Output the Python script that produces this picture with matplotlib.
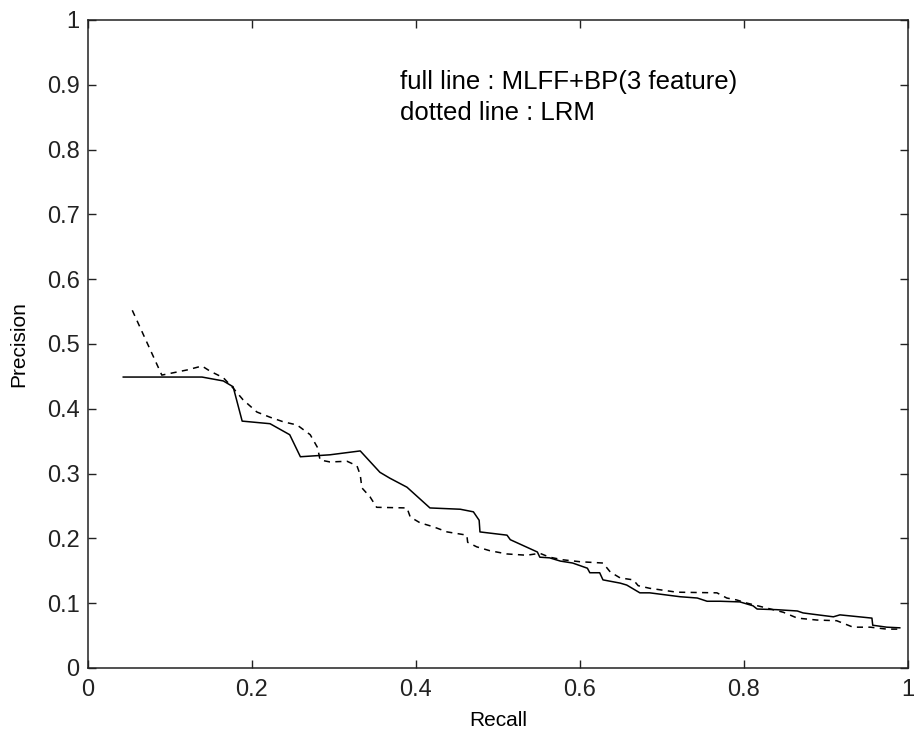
import matplotlib
matplotlib.use("Agg")
import matplotlib.pyplot as plt

# full line: MLFF+BP (3 feature)
mlff_recall = [0.043, 0.139, 0.165, 0.173, 0.177, 0.188, 0.222, 0.246, 0.259, 0.295,
               0.332, 0.356, 0.368, 0.389, 0.417, 0.454, 0.470, 0.477, 0.478, 0.511,
               0.515, 0.548, 0.551, 0.563, 0.576, 0.591, 0.609, 0.612, 0.624, 0.628,
               0.649, 0.657, 0.673, 0.685, 0.722, 0.743, 0.755, 0.771, 0.795, 0.811,
               0.816, 0.840, 0.865, 0.872, 0.884, 0.909, 0.917, 0.956, 0.957, 0.974,
               0.990]
mlff_precision = [0.449, 0.449, 0.443, 0.437, 0.434, 0.381, 0.377, 0.360, 0.326, 0.329,
                  0.335, 0.302, 0.293, 0.279, 0.247, 0.245, 0.241, 0.228, 0.210, 0.205,
                  0.198, 0.179, 0.171, 0.170, 0.165, 0.162, 0.154, 0.147, 0.147, 0.136,
                  0.131, 0.128, 0.116, 0.116, 0.110, 0.108, 0.103, 0.103, 0.102, 0.096,
                  0.091, 0.090, 0.088, 0.085, 0.083, 0.079, 0.082, 0.077, 0.066, 0.063,
                  0.062]

# dotted line: LRM
lrm_recall = [0.054, 0.090, 0.121, 0.139, 0.149, 0.165, 0.177, 0.189, 0.206, 0.222,
              0.238, 0.255, 0.271, 0.280, 0.283, 0.295, 0.316, 0.328, 0.332, 0.334,
              0.344, 0.352, 0.389, 0.393, 0.405, 0.421, 0.438, 0.462, 0.463, 0.474,
              0.490, 0.511, 0.535, 0.551, 0.563, 0.579, 0.600, 0.628, 0.637, 0.649,
              0.665, 0.671, 0.685, 0.718, 0.767, 0.779, 0.791, 0.804, 0.823, 0.848,
              0.865, 0.889, 0.913, 0.921, 0.933, 0.954, 0.974, 0.990]
lrm_precision = [0.552, 0.452, 0.460, 0.466, 0.458, 0.448, 0.432, 0.414, 0.395, 0.387,
                 0.380, 0.375, 0.360, 0.340, 0.321, 0.318, 0.319, 0.312, 0.298, 0.278,
                 0.264, 0.248, 0.247, 0.233, 0.224, 0.218, 0.210, 0.205, 0.194, 0.187,
                 0.181, 0.176, 0.174, 0.177, 0.171, 0.167, 0.164, 0.162, 0.148, 0.139,
                 0.136, 0.127, 0.123, 0.117, 0.116, 0.108, 0.105, 0.100, 0.094, 0.086,
                 0.077, 0.074, 0.073, 0.069, 0.063, 0.063, 0.060, 0.060]

x_ticks = [0, 0.2, 0.4, 0.6, 0.8, 1]
x_tick_labels = ["0", "0.2", "0.4", "0.6", "0.8", "1"]
y_ticks = [0, 0.1, 0.2, 0.3, 0.4, 0.5, 0.6, 0.7, 0.8, 0.9, 1]
y_tick_labels = ["0", "0.1", "0.2", "0.3", "0.4", "0.5", "0.6", "0.7", "0.8", "0.9", "1"]

plt.rcParams["font.family"] = ["Liberation Sans", "DejaVu Sans"]

fig = plt.figure(figsize=(9.14, 7.40), dpi=100)
ax = fig.add_axes([88 / 914, 72 / 740, 820 / 914, 648 / 740])

ax.plot(mlff_recall, mlff_precision, color="black", linewidth=1.1)
ax.plot(lrm_recall, lrm_precision, color="black", linewidth=1.1, linestyle=(0, (4, 3.5)))

ax.set_xlim(0, 1)
ax.set_ylim(0, 1)
ax.set_xticks(x_ticks)
ax.set_xticklabels(x_tick_labels)
ax.set_yticks(y_ticks)
ax.set_yticklabels(y_tick_labels)
ax.tick_params(direction="in", top=True, right=True, length=6, width=1,
               labelsize=17, colors="#222222")
ax.tick_params(axis="x", pad=8)
ax.tick_params(axis="y", pad=6)
for side in ax.spines.values():
    side.set_linewidth(1.1)
    side.set_color("#222222")

ax.set_xlabel("Recall", fontsize=15, labelpad=7)
ax.set_ylabel("Precision", fontsize=15, labelpad=13)

ax.text(0.38, 0.905, "full line : MLFF+BP(3 feature)", fontsize=18.5, va="center")
ax.text(0.38, 0.857, "dotted line : LRM", fontsize=18.5, va="center")

fig.savefig("out.png", dpi=100)
